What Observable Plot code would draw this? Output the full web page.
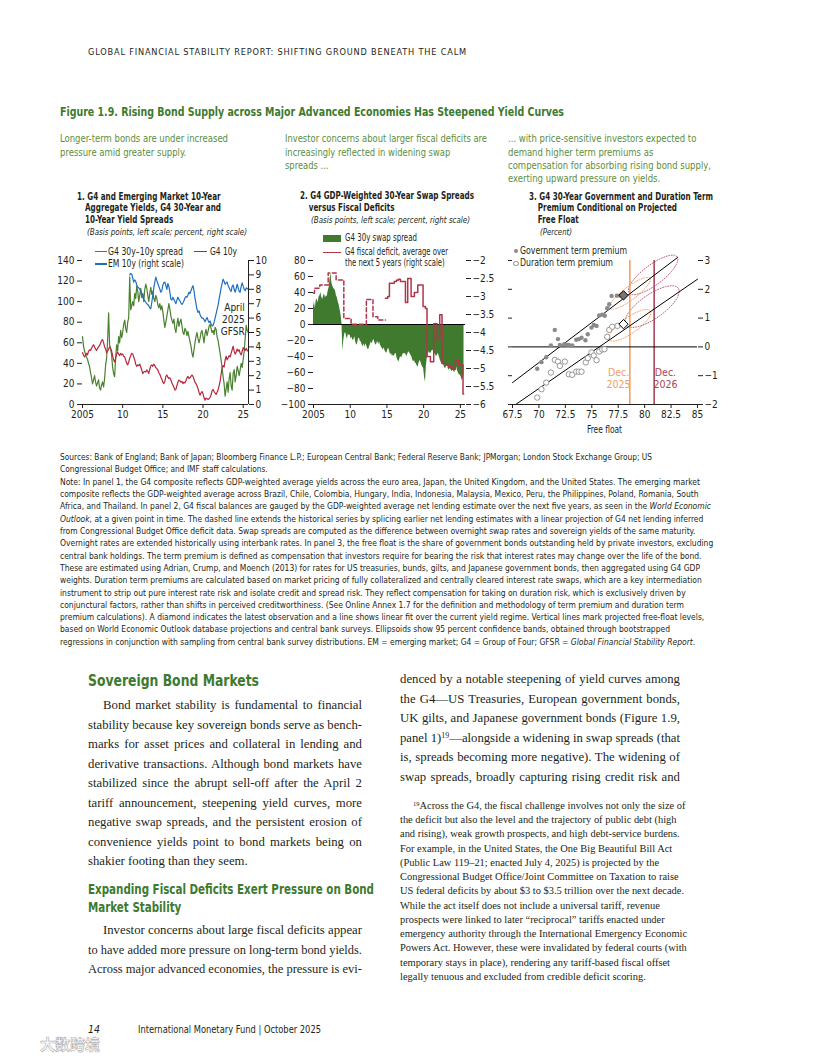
<!DOCTYPE html>
<html lang="en"><head><meta charset="utf-8"><title>Figure 1.9</title>
<script src="https://cdn.jsdelivr.net/npm/d3@7"></script>
<script src="https://cdn.jsdelivr.net/npm/@observablehq/plot@0.6"></script>
<style>
html,body{margin:0;padding:0;background:#fff}
#page{position:relative;width:816px;height:1056px;overflow:hidden;background:#fff;color:#231f20;font-family:var(--cf,Roboto,sans-serif)}
.a{position:absolute;white-space:nowrap;width:max-content}
.b{font-weight:bold}
.i{font-style:italic}
.green{color:#3d7a2e}
.intro{font-size:11px;line-height:13.3px;color:#5b8e3e}
.pt{font-size:10px;line-height:11.8px;font-weight:bold}
.ps{font-size:9.5px;line-height:11.8px;font-style:italic}
.note{font-size:9px;line-height:12.3px}
.leg{font-size:10px;line-height:12px}
.serif{font-family:"Liberation Serif","Times New Roman",serif}
.just{white-space:normal}
.jl{white-space:nowrap;transform-origin:0 0}
.jl.on{white-space:normal;text-align:justify;text-align-last:justify}
.sw{position:absolute}
sup{font-size:0.62em;vertical-align:0.45em;line-height:0}
</style></head><body><div id="page"></div>
<script>
// ---------------- DATA ----------------
const step = 0.125; // years between observations
// Panel 1: G4 30y-10y spread (basis points), from 2005.0
const g4SpreadBp = [
66,57,52,49,46,44,40,37, 31,26,20,24,28,22,18,21, 24,16,14,19,22,17,25,38, 45,62,89,58,54,48,36,30,
27,45,58,52,66,60,72,65, 70,78,82,74,70,80,84,124, 92,96,100,96,108,103,115,110, 100,106,113,104,108,100,112,117,
113,106,100,108,114,107,110,103, 100,106,103,97,94,98,92,96, 90,82,75,80,86,92,98,93, 86,82,79,83,74,70,78,84,
76,80,83,77,70,68,74,72, 67,71,66,61,57,50,46,53, 60,66,70,64,60,64,70,72, 66,60,69,73,67,71,76,78,
74,70,72,68,75,73,66,62, 56,50,43,36,27,20,8,15, 22,12,25,31,18,14,30,34, 22,28,37,33,28,34,40,36,
44,52,65,77,72,70];
// Panel 1: G4 10-year yield (percent), from 2005.0
const g4TenYearPct = [
3.6,3.45,3.3,3.4,3.55,3.45,3.7,3.8, 3.75,3.9,4.05,4.15,4.0,3.85,3.75,3.9, 4.0,4.1,4.25,4.45,4.5,4.3,4.0,3.85,
3.6,3.7,3.85,4.0,3.9,3.7,3.4,3.1, 2.95,3.2,3.5,3.65,3.5,3.4,3.55,3.45, 3.5,3.35,3.3,3.1,2.85,2.75,2.95,3.2,
3.4,3.55,3.5,3.3,3.1,2.8,2.65,2.75, 2.7,2.8,2.6,2.4,2.15,2.25,2.3,2.25, 2.4,2.3,2.15,2.45,2.7,2.75,2.65,2.8,
2.7,2.55,2.5,2.4,2.2,2.1,1.9,1.75, 1.55,1.45,1.6,1.95,2.05,1.9,1.8,1.85, 1.7,1.5,1.35,1.2,1.0,1.05,1.3,1.55,
1.7,1.65,1.55,1.6,1.45,1.55,1.5,1.65, 1.85,1.95,1.8,1.85,1.95,2.05,1.95,1.75, 1.55,1.45,1.3,1.1,0.85,0.65,0.8,0.9,
0.75,0.45,0.3,0.45,0.4,0.35,0.4,0.5, 0.65,0.95,1.05,0.9,0.8,0.7,0.85,1.0, 1.3,1.6,2.1,2.55,2.7,2.6,3.1,3.35,
3.1,3.25,3.4,3.3,3.55,3.8,4.05,3.7, 3.5,3.65,3.85,3.7,3.8,3.55,3.45,3.7, 3.95,3.85,3.75,3.9,3.75,3.7];
// Panel 1: EM 10-year yield (percent), from 2010.875
const em10Start = 2010.875;
const em10YearPct = [
9.0,9.1, 9.05,8.8,8.5,8.65,8.55,8.3,8.15,
8.1,8.0,7.9,7.7,7.5,7.3,7.2,7.1, 7.0,6.95,6.85,6.7,6.65,7.1,7.6,8.1, 8.5,8.85,8.6,8.4,8.2,8.0,7.8,7.9,
8.3,8.45,8.5,8.25,8.0,8.4,8.2,7.8, 7.3,7.25,7.45,7.3,7.15,7.0,7.25,7.45, 7.3,7.2,7.05,6.95,7.05,7.2,7.4,7.5,
7.45,7.6,7.8,7.7,7.9,8.1,8.25,7.9, 7.4,7.0,6.6,6.4,6.5,6.25,6.1,6.0, 6.0,5.9,5.75,5.9,6.05,5.85,5.7,5.8,
5.6,5.45,5.5,5.7,6.0,6.3,6.6,6.9, 7.3,7.7,8.1,8.4,8.7,8.55,8.35,8.45, 8.5,8.25,8.1,7.95,7.85,8.2,8.3,8.0,
7.8,8.05,8.35,8.1,7.85,7.8,8.2,8.45, 8.2,8.0,7.9,8.1,8.05,8.0];
const p1LeftTicks = [0,20,40,60,80,100,120,140];
const p1RightTicks = [0,1,2,3,4,5,6,7,8,9,10];
const yearTicks = [2005,2010,2015,2020,2025];
const p1Notes = [{x:2025.2, y:82.7, text:"April\n2025\nGFSR"}];

// Panel 2: G4 30y swap spread (basis points), from 2005.0
const swapSpreadBp = [
22,28,20,30,32,27,34,36, 40,34,31,36,38,33,36,35, 42,46,56,64,52,48,45,44, 42,36,33,28,24,18,12,2,
-33,-20,-12,-10,-15,-18,-12,-14, -13,-18,-16,-20,-19,-15,-22,-26, -24,-18,-17,-21,-22,-25,-28,-24,
-28,-24,-27,-30,-32,-28,-25,-22, -24,-20,-19,-23,-26,-24,-21,-25, -22,-26,-28,-30,-32,-29,-33,-35,
-36,-31,-30,-34,-38,-36,-40,-38, -40,-37,-36,-42,-45,-47,-43,-40, -42,-39,-36,-37,-36,-38,-40,-36,
-34,-36,-38,-40,-44,-47,-45,-48, -49,-52,-53,-48,-45,-47,-51,-53, -55,-66,-72,-52,-42,-37,-34,-36,
-36,-33,-32,-34,-36,-38,-40,-38, -36,-40,-44,-47,-50,-48,-51,-54, -55,-52,-51,-56,-57,-55,-57,-59,
-56,-59,-60,-55,-53,-58,-61,-63, -63,-66,-70,-68,-62];
// Panel 2: G4 fiscal deficit, 5-year average (percent), step changes [year, value]
const deficitSpliced = [[2005.0,-2.91],[2005.14,-2.77],[2005.86,-2.68],[2007.0,-2.35],[2008.08,-2.54],[2009.13,-3.61],
  [2010.12,-3.77],[2012.2,-3.08],[2013.1,-3.56],[2013.75,-3.65],[2014.8,-3.65]];
const deficitWEO = [[2014.8,-3.05],[2015.11,-3.0],[2015.34,-2.63],[2016.0,-2.58],[2016.29,-2.55],[2016.55,-2.52],
  [2016.84,-2.58],[2017.52,-3.17],[2017.83,-2.5],[2018.29,-3.0],[2018.74,-2.89],[2019.2,-2.68],[2019.92,-3.28],
  [2020.24,-3.33],[2020.46,-4.67],[2020.92,-4.81],[2021.37,-3.76],[2021.83,-4.16],[2022.19,-3.51],[2022.5,-4.86],
  [2022.96,-4.9],[2023.41,-4.95],[2023.87,-5.02],[2024.32,-4.77],[2024.77,-4.9],[2025.36,-5.71],[2025.45,-5.71]];
const p2LeftTicks = [-100,-80,-60,-40,-20,0,20,40,60,80];
const p2RightTicks = [-2,-2.5,-3,-3.5,-4,-4.5,-5,-5.5,-6];

// Panel 3: free float (x) vs term premium (y)
const govFloat = [69.84,70.24,70.69,71.13,71.5,71.8,71.98,72.39,72.6,72.83,73.15,73.53,73.77,74.03,74.4,74.62,74.97,75.19,75.45,75.7,75.99,76.23,76.46,76.65,76.87,77.37,77.7];
const govPremium = [-0.76,-0.53,-0.36,0.05,0.59,0.27,0.07,0.09,0.08,0.07,0.05,0.25,0.27,0.32,0.23,0.44,0.67,0.76,0.73,1.09,1.12,1.08,1.34,1.48,1.77,1.78,1.78];
const durFloat = [69.84,70.24,70.69,71.13,71.5,71.8,71.98,72.45,72.83,73.15,73.53,73.77,74.03,74.43,74.62,74.97,75.19,75.45,75.7,75.99,76.2,76.46,76.65,76.94,77.43];
const durPremium = [-1.76,-1.47,-1.24,-0.89,-0.45,-0.51,-0.66,-0.51,-0.95,-0.97,-0.86,-0.86,-0.86,-0.54,-0.39,-0.19,-0.30,-0.46,-0.16,-0.09,-0.08,0.35,0.59,0.70,0.73];
const latestGov = [78.0, 1.79];
const latestDur = [78.0, 0.79];
const govFit = [[67.5,-1.24],[83.1,3.1]];
const durFit = [[67.8,-2.0],[85.0,2.35]];
const projFloat = {"2025":78.6, "2026":80.9};
const ellipseProj = ["2025","2026","2025","2026"];
const ellipseCenters = [[78.6,1.86],[80.8,2.5],[78.6,0.75],[80.7,1.4]];
const ellipseMajor = [[1.89,0.52],[2.27,0.627],[1.94,0.50],[2.48,0.637]];
const ellipseMinor = [[-0.376,0.183],[-0.57,0.277],[-0.434,0.227],[-0.651,0.341]];
const decLabels = [{x:77.53,y:-1.08,text:"Dec.\n2025",proj:"2025"},{x:81.97,y:-1.08,text:"Dec.\n2026",proj:"2026"}];
const p3YTicks = [-2,-1,0,1,2,3];
const p3XTicks = [67.5,70,72.5,75,77.5,80,82.5,85];

// ---------------- SETUP ----------------
const page = document.getElementById('page');
function has(name){const c=document.createElement('canvas').getContext('2d');const s='abcdefghijklmnopqrstuvwxyz ABCDEFGHIJKLMNOPQRSTUVWXYZ 0123456789';c.font='40px monospace';const w1=c.measureText(s).width;c.font=`40px "${name}", monospace`;return c.measureText(s).width!==w1;}
const COND = ['Liberation Sans Narrow','DejaVu Sans Condensed','Roboto Condensed','Arial Narrow'].find(has);
const CF = COND ? `"${COND}", Roboto, sans-serif` : 'Roboto, sans-serif';
page.style.setProperty('--cf', CF);
const FS = COND ? 10 : 9;
const C = {green:'#4a8030', fill:'#3f7a2f', red:'#b8263c', red2:'#b3344a', blue:'#1f6fbf', orange:'#f0a266', rose:'#a8465c', gray:'#8a8a8a', ink:'#231f20'};

function el(html, cls, css, w){const d=document.createElement('div');d.className='a '+(cls||'');d.style.cssText=css;d.innerHTML=html;if(w)d.dataset.w=w;page.appendChild(d);return d;}
const lines=(arr,restStyle)=>arr.map((t,i)=>`<div style="${i?(restStyle||''):''}">${t}</div>`).join('');
function sw(left,top,w,h,css){const d=document.createElement('div');d.className='sw';d.style.cssText=`left:${left}px;top:${top}px;width:${w}px;height:${h}px;${css}`;page.appendChild(d);}

// ---------------- TEXT ----------------
el('GLOBAL FINANCIAL STABILITY REPORT: SHIFTING GROUND BENEATH THE CALM','','left:88px;top:46px;font-size:9px;line-height:12px;letter-spacing:0.8px',379);
el('Figure 1.9. Rising Bond Supply across Major Advanced Economies Has Steepened Yield Curves','b green','left:60px;top:103.5px;font-size:12.5px;line-height:15px',504);

el(lines(['Longer-term bonds are under increased','pressure amid greater supply.']),'intro','left:60px;top:132.4px',168);
el(lines(['Investor concerns about larger fiscal deficits are','increasingly reflected in widening swap','spreads ...']),'intro','left:285px;top:132.4px',202);
el(lines(['... with price-sensitive investors expected to','demand higher term premiums as','compensation for absorbing rising bond supply,','exerting upward pressure on yields.']),'intro','left:508px;top:132.4px',203);

el(lines(['1. G4 and Emerging Market 10-Year','Aggregate Yields, G4 30-Year and','10-Year Yield Spreads'],'padding-left:10px'),'pt','left:77px;top:190.7px',144);
el('(Basis points, left scale; percent, right scale)','ps','left:87px;top:226.3px',160);
el(lines(['2. G4 GDP-Weighted 30-Year Swap Spreads','versus Fiscal Deficits'],'padding-left:11px'),'pt','left:300px;top:189.8px',174);
el('(Basis points, left scale; percent, right scale)','ps','left:311px;top:213.5px',159);
el(lines(['3. G4 30-Year Government and Duration Term','Premium Conditional on Projected','Free Float'],'padding-left:11px'),'pt','left:529px;top:190.7px',184);
el('(Percent)','ps','left:540px;top:226.3px',32);

// legends
sw(95,250.75,12,1.6,`background:${C.green}`);
el('G4 30y–10y spread','leg','left:108px;top:245.5px',75);
sw(194,250.75,13,1.6,`background:${C.red}`);
el('G4 10y','leg','left:210px;top:245.5px',27);
sw(95,263.25,12,1.6,`background:${C.blue}`);
el('EM 10y (right scale)','leg','left:108px;top:258px',76);

sw(323,234.5,18,7,`background:${C.fill}`);
el('G4 30y swap spread','leg','left:345px;top:232px',72);
sw(323,251.5,18,1.6,`background:${C.red2}`);
el(lines(['G4 fiscal deficit, average over','the next 5 years (right scale)']),'leg','left:345px;top:245.9px;line-height:11.6px',103);

sw(514,248.5,4,4,`background:${C.gray};border-radius:50%`);
el('Government term premium','leg','left:520px;top:244.5px',107);
sw(513,260.8,3.6,3.6,`border:0.9px solid ${C.gray};border-radius:50%`);
el('Duration term premium','leg','left:520px;top:257.3px',93);
el('Free float','','left:587px;top:424px;font-size:10px;line-height:12px',35);

// notes
el(lines(['Sources: Bank of England; Bank of Japan; Bloomberg Finance L.P.; European Central Bank; Federal Reserve Bank; JPMorgan; London Stock Exchange Group; US',
'Congressional Budget Office; and IMF staff calculations.']),'note','left:60px;top:450.9px',592);
const noteLines = [
'<span class="ref">Note: In panel 1, the G4 composite reflects GDP-weighted average yields across the euro area, Japan, the United Kingdom, and the United States. The emerging market</span>',
'composite reflects the GDP-weighted average across Brazil, Chile, Colombia, Hungary, India, Indonesia, Malaysia, Mexico, Peru, the Philippines, Poland, Romania, South',
'Africa, and Thailand. In panel 2, G4 fiscal balances are gauged by the GDP-weighted average net lending estimate over the next five years, as seen in the <i>World Economic</i>',
'<i>Outlook</i>, at a given point in time. The dashed line extends the historical series by splicing earlier net lending estimates with a linear projection of G4 net lending inferred',
'from Congressional Budget Office deficit data. Swap spreads are computed as the difference between overnight swap rates and sovereign yields of the same maturity.',
'Overnight rates are extended historically using interbank rates. In panel 3, the free float is the share of government bonds outstanding held by private investors, excluding',
'central bank holdings. The term premium is defined as compensation that investors require for bearing the risk that interest rates may change over the life of the bond.',
'These are estimated using Adrian, Crump, and Moench (2013) for rates for US treasuries, bunds, gilts, and Japanese government bonds, then aggregated using G4 GDP',
'weights. Duration term premiums are calculated based on market pricing of fully collateralized and centrally cleared interest rate swaps, which are a key intermediation',
'instrument to strip out pure interest rate risk and isolate credit and spread risk. They reflect compensation for taking on duration risk, which is exclusively driven by',
'conjunctural factors, rather than shifts in perceived creditworthiness. (See Online Annex 1.7 for the definition and methodology of term premium and duration term',
'premium calculations). A diamond indicates the latest observation and a line shows linear fit over the current yield regime. Vertical lines mark projected free-float levels,',
'based on World Economic Outlook database projections and central bank surveys. Ellipsoids show 95 percent confidence bands, obtained through bootstrapped',
'regressions in conjunction with sampling from central bank survey distributions. EM = emerging market; G4 = Group of Four; GFSR = <i>Global Financial Stability Report</i>.'];
el(lines(noteLines),'note','left:60px;top:475.9px',640);

// body
el('Sovereign Bond Markets','b green','left:88px;top:672px;font-size:15.5px;line-height:18px',171);
el(lines(['Expanding Fiscal Deficits Exert Pressure on Bond','Market Stability']),'b green','left:88px;top:880px;font-size:14px;line-height:18px',286);

const justBlocks=[];
function addJust(left,top,col,lines,opts={}){
  const b=document.createElement('div');b.className='a serif just';
  b.style.cssText=`left:${left}px;top:${top}px;width:${col}px;font-size:13px;line-height:19.5px`;
  lines.forEach((t,i)=>{const d=document.createElement('div');d.className='jl';if(opts.last&&i===lines.length-1)d.dataset.last='1';if(i===0&&opts.indent)d.style.paddingLeft=opts.indent+'px';d.innerHTML=`<span>${t}</span>`;b.appendChild(d);});
  page.appendChild(b);justBlocks.push({b,col});return b;}
addJust(88,696.25,274,['Bond market stability is fundamental to financial','stability because key sovereign bonds serve as bench-','marks for asset prices and collateral in lending and','derivative transactions. Although bond markets have','stabilized since the abrupt sell-off after the April 2','tariff announcement, steepening yield curves, more','negative swap spreads, and the persistent erosion of','convenience yields point to bond markets being on','shakier footing than they seem.'],{indent:15,last:true});
addJust(88,921.25,274,['Investor concerns about large fiscal deficits appear','to have added more pressure on long-term bond yields.','Across major advanced economies, the pressure is evi-'],{indent:15});
addJust(400,670.25,280,['denced by a notable steepening of yield curves among','the G4—US Treasuries, European government bonds,','UK gilts, and Japanese government bonds (Figure 1.9,','panel 1)<sup>19</sup>—alongside a widening in swap spreads (that','is, spreads becoming more negative). The widening of','swap spreads, broadly capturing rising credit risk and']);

const fnLines=['<sup>19</sup>Across the G4, the fiscal challenge involves not only the size of','the deficit but also the level and the trajectory of public debt (high','and rising), weak growth prospects, and high debt-service burdens.','For example, in the United States, the One Big Beautiful Bill Act','(Public Law 119–21; enacted July 4, 2025) is projected by the','Congressional Budget Office/Joint Committee on Taxation to raise','<span class="ref">US federal deficits by about $3 to $3.5 trillion over the next decade.</span>','While the act itself does not include a universal tariff, revenue','prospects were linked to later “reciprocal” tariffs enacted under','emergency authority through the International Emergency Economic','Powers Act. However, these were invalidated by federal courts (with','temporary stays in place), rendering any tariff-based fiscal offset','legally tenuous and excluded from credible deficit scoring.'];
const fn=el(fnLines.map((t,i)=>`<div style="${i?'':'padding-left:13px'}">${t}</div>`).join(''),'serif','left:400px;top:798.9px;font-size:10.2px;line-height:14.25px');

el('14','i','left:88px;top:1022.5px;font-size:10.5px;line-height:13px');
el('International Monetary Fund | October 2025','','left:138px;top:1022.5px;font-size:10.5px;line-height:13px',183);
el('大数跨境','','left:40px;top:1036px;font-family:"Noto Sans CJK SC";font-size:15px;line-height:16px;color:#fff;-webkit-text-stroke:0.7px #b5b5b5;font-weight:bold');

// fit condensed text widths
page.querySelectorAll('[data-w]').forEach(d=>{const r=d.querySelector('.ref');const w=(r||d).getBoundingClientRect().width;d.style.transformOrigin='0 0';d.style.transform=`scaleX(${(+d.dataset.w/w).toFixed(4)})`;});
// serif body: common size from the typical line fill, then justify short lines and compress long ones
{
  const ratios=[];
  justBlocks.forEach(({b,col})=>b.querySelectorAll('.jl').forEach(l=>{if(l.dataset.last)return;const pad=parseFloat(l.style.paddingLeft||0);ratios.push((col-pad)/l.firstChild.getBoundingClientRect().width);}));
  ratios.sort((a,b)=>a-b);
  const fs=13*ratios[Math.floor(ratios.length*0.4)]*0.99;
  justBlocks.forEach(({b,col})=>{b.style.fontSize=fs+'px';b.querySelectorAll('.jl').forEach(l=>{const pad=parseFloat(l.style.paddingLeft||0);const avail=col-pad;const w=l.firstChild.getBoundingClientRect().width;
    if(w>avail){l.style.transform=`scaleX(${(avail/w).toFixed(4)})`;}else if(!l.dataset.last){l.classList.add('on');}});});
}
{const r=fn.querySelector('.ref');const w=r.getBoundingClientRect().width;fn.style.fontSize=(10.2*284/w)+'px';}

// ---------------- CHARTS ----------------
const series=(start,vals)=>vals.map((v,i)=>({year:start+i*step,value:v}));
const minus=d=>(d<0?'\u2212':'')+Math.abs(d);
const yearFmt=d=>d===2005?'2005':String(d).slice(2);
const base={style:{fontFamily:CF,fontSize:FS+'px',color:C.ink,background:'none',overflow:'visible'}};
function place(svg,left,top){svg.style.position='absolute';svg.style.left=left+'px';svg.style.top=top+'px';page.appendChild(svg);}

// Panel 1
const R1=14; // left units per right-scale percent
const p1=Plot.plot({...base,width:220,height:190,marginLeft:32,marginRight:22,marginTop:20,marginBottom:26,
  x:{domain:[2005,2025.66],label:null},y:{domain:[0,140],label:null},
  marks:[
    Plot.line(series(2005,g4SpreadBp),{x:'year',y:'value',stroke:C.green,strokeWidth:1.2}),
    Plot.line(series(2005,g4TenYearPct),{x:'year',y:d=>d.value*R1,stroke:C.red,strokeWidth:1.2}),
    Plot.line(series(em10Start,em10YearPct),{x:'year',y:d=>d.value*R1,stroke:C.blue,strokeWidth:1.2}),
    Plot.ruleY([0],{stroke:C.ink}),
    Plot.ruleX([2025.66],{stroke:C.ink}),
    Plot.axisY({ticks:p1LeftTicks,tickSize:5,tickPadding:3,label:null}),
    Plot.axisY({anchor:'right',ticks:p1RightTicks.map(v=>v*R1),tickFormat:v=>String(Math.round(v/R1)),tickSize:5,tickPadding:2,label:null}),
    Plot.axisX({ticks:yearTicks,tickFormat:yearFmt,tickSize:4,tickPadding:2,label:null}),
    Plot.text(p1Notes,{x:'x',y:'y',text:'text',textAnchor:'end',lineHeight:1.2,fontSize:FS})
  ]});
place(p1,50,240);

// Panel 2
const toL=r=>80+(r+2)*45; // right scale percent -> left scale bp
const p2=Plot.plot({...base,width:215,height:190,marginLeft:38,marginRight:25,marginTop:20,marginBottom:26,
  x:{domain:[2005,2025.7],label:null},y:{domain:[-100,80],label:null},
  marks:[
    Plot.areaY(series(2005,swapSpreadBp),{x:'year',y:'value',fill:C.fill}),
    Plot.ruleY([0],{stroke:'#000'}),
    Plot.line(deficitSpliced,{x:d=>d[0],y:d=>toL(d[1]),curve:'step-after',stroke:C.red2,strokeWidth:1.5,strokeDasharray:'4,2.5'}),
    Plot.line(deficitWEO,{x:d=>d[0],y:d=>toL(d[1]),curve:'step-after',stroke:C.red2,strokeWidth:1.5}),
    Plot.ruleY([-100],{stroke:C.ink}),
    Plot.axisY({ticks:p2LeftTicks,tickFormat:minus,tickSize:5,tickPadding:3,label:null}),
    Plot.axisY({anchor:'right',ticks:p2RightTicks.map(toL),tickFormat:v=>minus(+((v-80)/45-2).toFixed(1)),tickSize:5,tickPadding:2,label:null}),
    Plot.axisX({ticks:yearTicks,tickFormat:yearFmt,tickSize:4,tickPadding:2,label:null})
  ]});
place(p2,275,240);

// Panel 3
const ellPts=ellipseCenters.flatMap(([cx,cy],k)=>{const [ux,uy]=ellipseMajor[k],[vx,vy]=ellipseMinor[k];
  return d3.range(0,73).map(j=>{const t=j/72*2*Math.PI;return {k,proj:ellipseProj[k],x:cx+ux*Math.cos(t)+vx*Math.sin(t),y:cy+uy*Math.cos(t)+vy*Math.sin(t)};});});
const govPts=govFloat.map((x,i)=>({x,y:govPremium[i]}));
const durPts=durFloat.map((x,i)=>({x,y:durPremium[i]}));
const p3=Plot.plot({...base,width:220,height:190,marginLeft:12,marginRight:23,marginTop:20,marginBottom:26,
  x:{domain:[67.5,85],label:null},y:{domain:[-2,3],label:null},
  marks:[
    Plot.line(ellPts.filter(d=>d.proj==='2025'),{x:'x',y:'y',z:'k',stroke:C.orange,strokeWidth:1,strokeDasharray:'1,1.6'}),
    Plot.line(ellPts.filter(d=>d.proj==='2026'),{x:'x',y:'y',z:'k',stroke:'#c2607c',strokeWidth:1,strokeDasharray:'1,1.6'}),
    Plot.ruleX([projFloat['2025']],{stroke:C.orange,strokeWidth:1.6}),
    Plot.ruleX([projFloat['2026']],{stroke:C.rose,strokeWidth:1.6}),
    Plot.ruleY([0],{stroke:'#000'}),
    Plot.line(govFit,{x:d=>d[0],y:d=>d[1],stroke:'#000',strokeWidth:1}),
    Plot.line(durFit,{x:d=>d[0],y:d=>d[1],stroke:'#000',strokeWidth:1}),
    Plot.dot(govPts,{x:'x',y:'y',r:2.2,fill:C.gray}),
    Plot.dot(durPts,{x:'x',y:'y',r:2.7,stroke:C.gray,fill:'#fff',strokeWidth:0.9}),
    Plot.dot([latestGov],{x:d=>d[0],y:d=>d[1],symbol:'diamond2',r:4.2,fill:'#777',stroke:'#000',strokeWidth:1}),
    Plot.dot([latestDur],{x:d=>d[0],y:d=>d[1],symbol:'diamond2',r:4.2,fill:'#fff',stroke:'#000',strokeWidth:1}),
    Plot.text(decLabels.filter(d=>d.proj==='2025'),{x:'x',y:'y',text:'text',fill:C.orange,lineHeight:1.2,fontSize:FS+0.5}),
    Plot.text(decLabels.filter(d=>d.proj==='2026'),{x:'x',y:'y',text:'text',fill:C.rose,lineHeight:1.2,fontSize:FS+0.5}),
    Plot.ruleY([-2],{stroke:C.ink}),
    Plot.axisY({ticks:p3YTicks,tickFormat:()=>'',tickSize:4,label:null}),
    Plot.axisY({anchor:'right',ticks:p3YTicks,tickFormat:minus,tickSize:5,tickPadding:2,label:null}),
    Plot.axisX({ticks:p3XTicks,tickFormat:d=>Number.isInteger(d)?String(d):d.toFixed(1),tickSize:4,tickPadding:2,label:null})
  ]});
place(p3,500,240);
</script></body></html>
